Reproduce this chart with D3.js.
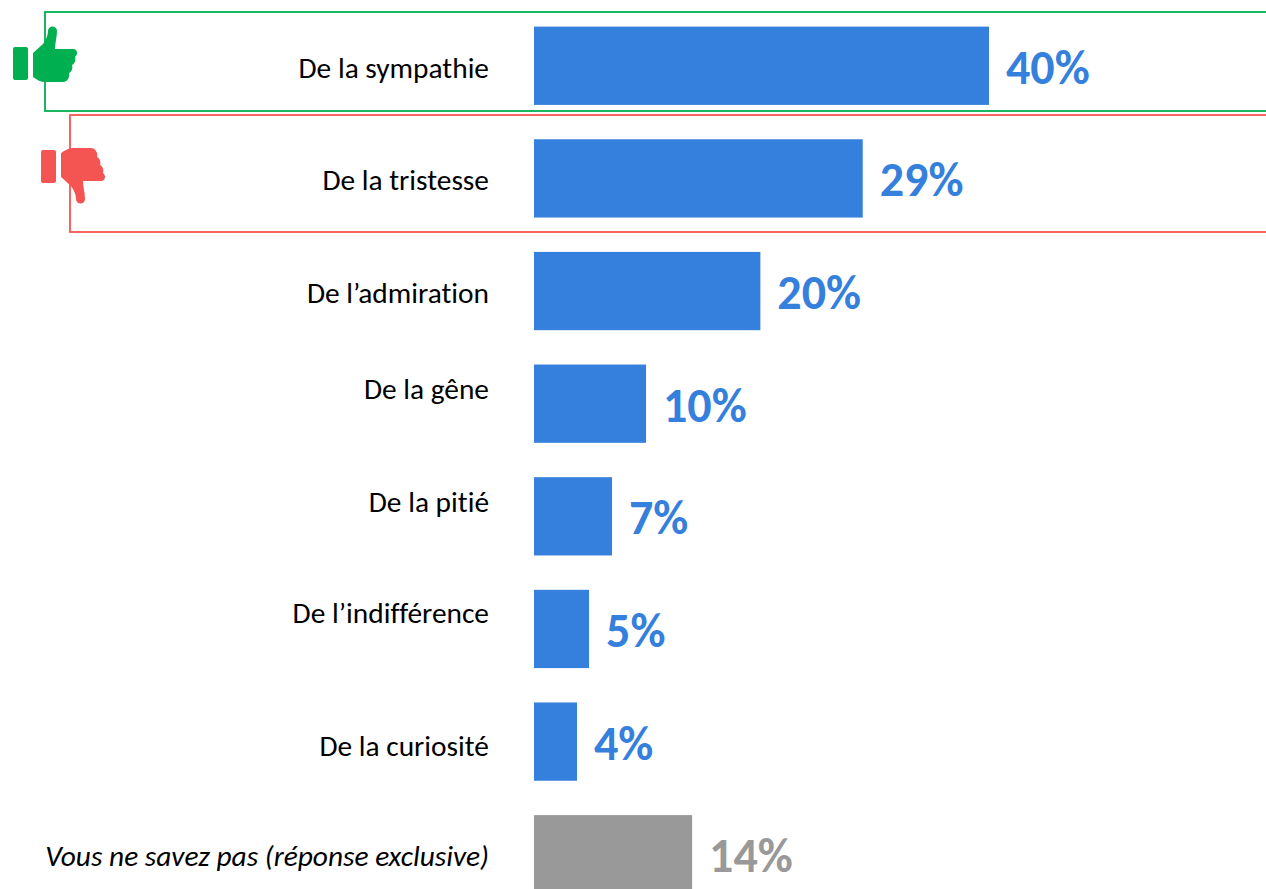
<!DOCTYPE html>
<html><head><meta charset="utf-8"><script src="https://cdn.jsdelivr.net/npm/d3@7"></script>
<style>html,body{margin:0;padding:0;background:#fff;overflow:hidden}svg{display:block}text{font-variant-ligatures:none}</style></head>
<body><svg id="c" width="1266" height="889"></svg>
<script>
const categories=["De la sympathie","De la tristesse","De l’admiration","De la gêne","De la pitié","De l’indifférence","De la curiosité","Vous ne savez pas (réponse exclusive)"];
const values=[40,28.9,19.9,9.85,6.86,4.84,3.78,13.9];
const labels=["40%","29%","20%","10%","7%","5%","4%","14%"];
const labelShift=[12,12,12,-5,-4,-5.5,14,12];
const FONT="Carlito, Calibri, 'Open Sans', 'Noto Sans', sans-serif";
const svg=d3.select("#c");
const x=d3.scaleLinear().domain([0,40]).range([534,989]);
const y=d3.scaleBand().domain(categories).range([9.5,910.5]).paddingInner(0.305).paddingOuter(0.152);
const color=(d,i)=>i===7?"#999999":"#3580DC";
svg.append("rect").attr("x",45).attr("y",12).attr("width",1230).attr("height",99).attr("fill","none").attr("stroke","#00B050").attr("stroke-width",1.8);
svg.append("rect").attr("x",70).attr("y",115).attr("width",1210).attr("height",117).attr("fill","none").attr("stroke","#F55552").attr("stroke-width",1.8);
svg.selectAll("rect.bar").data(values).join("rect").attr("class","bar")
 .attr("x",x(0)).attr("y",(d,i)=>y(categories[i])).attr("width",d=>x(d)-x(0)).attr("height",y.bandwidth()).attr("fill",color);
svg.selectAll("text.cat").data(categories).join("text").attr("class","cat")
 .attr("x",489).attr("y",(d,i)=>y(d)+y.bandwidth()/2+labelShift[i]).attr("text-anchor","end").attr("font-family",FONT).attr("font-size",29.4)
 .attr("font-style",(d,i)=>i===7?"italic":"normal").attr("fill","#000").text(d=>d);
svg.selectAll("text.val").data(values).join("text").attr("class","val")
 .attr("x",d=>x(d)+17).attr("y",(d,i)=>y(categories[i])+y.bandwidth()/2+18).attr("font-family",FONT).attr("font-size",48).attr("font-weight",700)
 .attr("fill",color).text((d,i)=>labels[i]);
function thumb(g,col){
 g.append("rect").attr("x",0).attr("y",0).attr("width",15).attr("height",33).attr("rx",2).attr("fill",col);
 g.append("path").attr("fill",col).attr("d","M20,6 L30,-3 C33,-7 35,-12 35,-16 C35,-22 44,-22 44,-16 C44,-10 42,-4 42,2 L60,2 C65,2 65,8 62,10 C63,12 62,17 59,18 C60,20 59,25 56,26 C57,29 55,35 50,35 L32,35 C28,35 24,33 20,30 Z");
}
thumb(svg.append("g").attr("transform","translate(13,47)"),"#00B050");
thumb(svg.append("g").attr("transform","translate(41,183) scale(1,-1)"),"#F55552");
</script></body></html>
